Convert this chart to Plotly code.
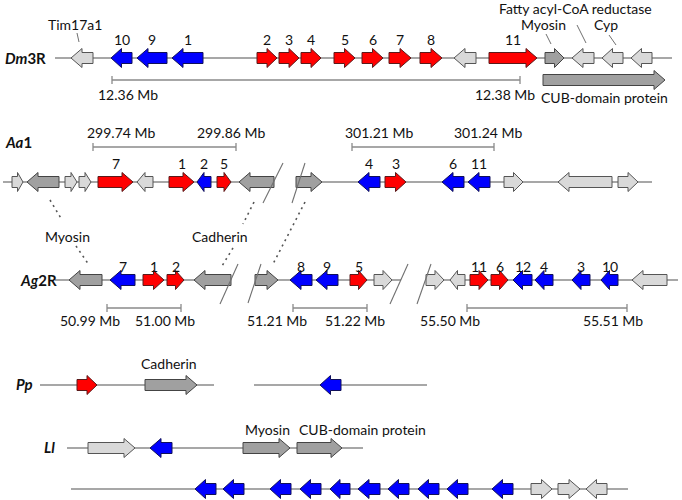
import plotly.graph_objects as go

# ---------------- data (diagram units along each chromosome track) ----------------
# Dm3R
dm_start = [71, 111, 137, 172, 257, 279, 301, 334, 362, 389, 420, 454, 489, 545, 572, 602, 631]
dm_end   = [93, 132, 167, 203, 277, 299, 321, 355, 383, 411, 442, 476, 537, 564, 594, 623, 652]
dm_dir   = [-1, -1, -1, -1, 1, 1, 1, 1, 1, 1, 1, -1, 1, 1, -1, -1, -1]
dm_kind  = ["lg", "b", "b", "b", "r", "r", "r", "r", "r", "r", "r", "lg", "r", "dg", "lg", "lg", "lg"]
dm_label = ["", "10", "9", "1", "2", "3", "4", "5", "6", "7", "8", "", "11", "", "", "", ""]
dm_cub = (543, 665, 1, "dg")

# Aa1
aa_start = [12, 27, 65, 79, 98, 137, 169, 197, 217, 239, 296, 358, 385, 442, 468, 504, 558, 618]
aa_end   = [23, 59, 77, 91, 133, 153, 194, 211, 231, 274, 322, 380, 406, 464, 490, 523, 612, 638]
aa_dir   = [1, -1, 1, 1, 1, -1, 1, -1, 1, -1, 1, -1, 1, -1, -1, 1, -1, 1]
aa_kind  = ["lg", "dg", "lg", "lg", "r", "lg", "r", "b", "r", "dg", "dg", "b", "r", "b", "b", "lg", "lg", "lg"]
aa_label = ["", "", "", "", "7", "", "1", "2", "5", "", "", "4", "3", "6", "11", "", "", ""]

# Ag2R
ag_start = [69, 110, 143, 167, 194, 255, 290, 316, 350, 374, 426, 450, 470, 491, 513, 535, 572, 601, 632]
ag_end   = [102, 135, 164, 184, 231, 278, 312, 338, 367, 392, 444, 465, 488, 508, 532, 553, 590, 618, 667]
ag_dir   = [-1, -1, 1, 1, -1, 1, -1, -1, 1, 1, 1, -1, 1, 1, -1, -1, -1, -1, -1]
ag_kind  = ["dg", "b", "r", "r", "dg", "dg", "b", "b", "r", "lg", "lg", "lg", "r", "r", "b", "b", "b", "b", "lg"]
ag_label = ["", "7", "1", "2", "", "", "8", "9", "5", "", "", "", "11", "6", "12", "4", "3", "10", ""]

# Pp
pp_start = [77, 145, 320]
pp_end   = [97, 197, 341]
pp_dir   = [1, 1, -1]
pp_kind  = ["r", "dg", "b"]

# Ll (two rows)
ll1_start = [88, 150, 243, 297]
ll1_end   = [135, 172, 290, 342]
ll1_dir   = [1, -1, 1, 1]
ll1_kind  = ["lg", "b", "dg", "dg"]

ll2_start = [195, 223, 270, 300, 330, 358, 388, 418, 447, 492, 531, 558, 586]
ll2_end   = [216, 244, 291, 321, 350, 380, 409, 439, 468, 513, 552, 580, 607]
ll2_dir   = [-1, -1, -1, -1, -1, -1, -1, -1, -1, -1, 1, 1, -1]
ll2_kind  = ["b"] * 10 + ["lg", "lg", "lg"]

# scale bars: (start, end, left label, right label)
dm_bars = [(112, 520, "12.36 Mb", "12.38 Mb")]
aa_bars = [(93, 236, "299.74 Mb", "299.86 Mb"), (352, 494, "301.21 Mb", "301.24 Mb")]
ag_bars = [(107, 181, "50.99 Mb", "51.00 Mb"), (293, 367, "51.21 Mb", "51.22 Mb"),
           (467, 627, "55.50 Mb", "55.51 Mb")]

# label placement (layout only): centre of each bar label
dm_bar_lab_x = [(128, 505)]
aa_bar_lab_x = [(121, 231), (379, 488)]
ag_bar_lab_x = [(90, 165), (277, 355), (450, 613)]

# ---------------- styles ----------------
FILL = {"r": "#FF0000", "b": "#0000FF", "lg": "#D9D9D9", "dg": "#A0A0A0"}
EDGE = {"r": "#5a1a1a", "b": "#10105a", "lg": "#555555", "dg": "#444444"}
LINE_C = "#8a8a8a"
FONT = "Lato"
BH, HH, HL = 5.5, 9.5, 11.0

fig = go.Figure()
polys = {k: ([], []) for k in FILL}


def add_arrow(x0, x1, d, kind, yc):
    hl = min(HL, 0.5 * (x1 - x0))
    if d > 0:
        xs = [x0, x1 - hl, x1 - hl, x1, x1 - hl, x1 - hl, x0, x0]
    else:
        xs = [x1, x0 + hl, x0 + hl, x0, x0 + hl, x0 + hl, x1, x1]
    ys = [yc - BH, yc - BH, yc - HH, yc, yc + HH, yc + BH, yc + BH, yc - BH]
    px, py = polys[kind]
    px.extend(xs + [None])
    py.extend(ys + [None])


def add_line(xs, ys, color=LINE_C, width=1.3, dash=None):
    fig.add_trace(go.Scatter(x=xs, y=ys, mode="lines", hoverinfo="skip",
                             line=dict(color=color, width=width, dash=dash), showlegend=False))


def text(x, y, s, size=14, color="#111111"):
    fig.add_annotation(x=x, y=y, text=s, showarrow=False, xref="x", yref="y",
                       font=dict(family=FONT, size=size, color=color))


def track(starts, ends, dirs, kinds, labels, yc, label_y):
    for s, e, d, k, lab in zip(starts, ends, dirs, kinds, labels):
        add_arrow(s, e, d, k, yc)
        if lab:
            text((s + e) / 2, label_y, lab)


def bars(blist, labx, yb, ylab):
    for (s, e, l1, l2), (lx1, lx2) in zip(blist, labx):
        add_line([s, e, None, s, s, None, e, e], [yb, yb, None, yb - 4, yb + 4, None, yb - 4, yb + 4],
                 width=1.3)
        text(lx1, ylab, l1)
        text(lx2, ylab, l2)


# backbones
Y_DM, Y_AA, Y_AG, Y_PP, Y_LL1, Y_LL2 = 58, 182, 280, 385, 448, 489
add_line([55, 672], [Y_DM, Y_DM])
for seg in [(3, 274), (299, 652)]:
    add_line(list(seg), [Y_AA, Y_AA])
for seg in [(55, 231), (255, 401), (426, 678)]:
    add_line(list(seg), [Y_AG, Y_AG])
for seg in [(40, 214), (254, 427)]:
    add_line(list(seg), [Y_PP, Y_PP])
add_line([67, 363], [Y_LL1, Y_LL1])
add_line([71, 628], [Y_LL2, Y_LL2])

# genes
track(dm_start, dm_end, dm_dir, dm_kind, dm_label, Y_DM, 39)
add_arrow(dm_cub[0], dm_cub[1], dm_cub[2], dm_cub[3], 80)
track(aa_start, aa_end, aa_dir, aa_kind, aa_label, Y_AA, 163)
track(ag_start, ag_end, ag_dir, ag_kind, ag_label, Y_AG, 266)
track(pp_start, pp_end, pp_dir, pp_kind, [""] * 3, Y_PP, 0)
track(ll1_start, ll1_end, ll1_dir, ll1_kind, [""] * 4, Y_LL1, 0)
track(ll2_start, ll2_end, ll2_dir, ll2_kind, [""] * 13, Y_LL2, 0)

for k in FILL:
    px, py = polys[k]
    fig.add_trace(go.Scatter(x=px, y=py, mode="lines", fill="toself", fillcolor=FILL[k],
                             line=dict(color=EDGE[k], width=1), hoverinfo="skip", showlegend=False))

# scale bars
bars(dm_bars, dm_bar_lab_x, 80, 94)
bars(aa_bars, aa_bar_lab_x, 147, 132)
bars(ag_bars, ag_bar_lab_x, 308, 320)

# break slashes
for (xa, ya, xb, yb) in [(263, 203, 283, 163), (292, 203, 305, 163),
                         (220, 304, 238, 264), (248, 303, 261, 264),
                         (390, 304, 408, 264), (417, 304, 431, 264)]:
    add_line([xa, xb], [ya, yb], color="#707070", width=1.1)

# dotted homology lines
DOT = "2px,4px"
add_line([50, 62], [200, 220], color="#555555", width=1.6, dash=DOT)
add_line([76, 89], [246, 265], color="#555555", width=1.6, dash=DOT)
add_line([254, 243], [202, 224], color="#555555", width=1.6, dash=DOT)
add_line([233, 222], [248, 266], color="#555555", width=1.6, dash=DOT)
add_line([305, 272], [202, 266], color="#555555", width=1.6, dash=DOT)

# leader lines (Dm)
add_line([77, 79], [33, 42], color="#707070", width=1)
add_line([546, 551], [34, 44], color="#707070", width=1)
add_line([577, 586], [25, 43], color="#707070", width=1)
add_line([609, 616], [35, 45], color="#707070", width=1)

# gene names
text(75, 24, "Tim17a1")
text(575, 8, "Fatty acyl-CoA reductase")
text(543, 24, "Myosin")
text(606, 24, "Cyp")
text(604, 97, "CUB-domain protein")
text(67, 236, "Myosin")
text(220, 236, "Cadherin")
text(169, 363, "Cadherin")
text(267, 429, "Myosin")
text(362, 429, "CUB-domain protein")

# track names
text(25, 58, "<b><i>Dm</i>3R</b>", size=15)
text(18, 142, "<b><i>Aa</i>1</b>", size=15)
text(38, 280, "<b><i>Ag</i>2R</b>", size=15)
text(24, 384, "<b><i>Pp</i></b>", size=15)
text(49, 447, "<b><i>Ll</i></b>", size=15)

fig.update_layout(
    width=682, height=500, margin=dict(l=0, r=0, t=0, b=0),
    paper_bgcolor="white", plot_bgcolor="white", showlegend=False,
    xaxis=dict(range=[0, 682], visible=False, fixedrange=True),
    yaxis=dict(range=[500, 0], visible=False, fixedrange=True),
)
# remove the default 8 px page margin so the figure fills the window exactly
fig.write_html("out.html", config={"displayModeBar": False},
               post_script="document.body.style.margin='0';document.body.style.overflow='hidden';")
